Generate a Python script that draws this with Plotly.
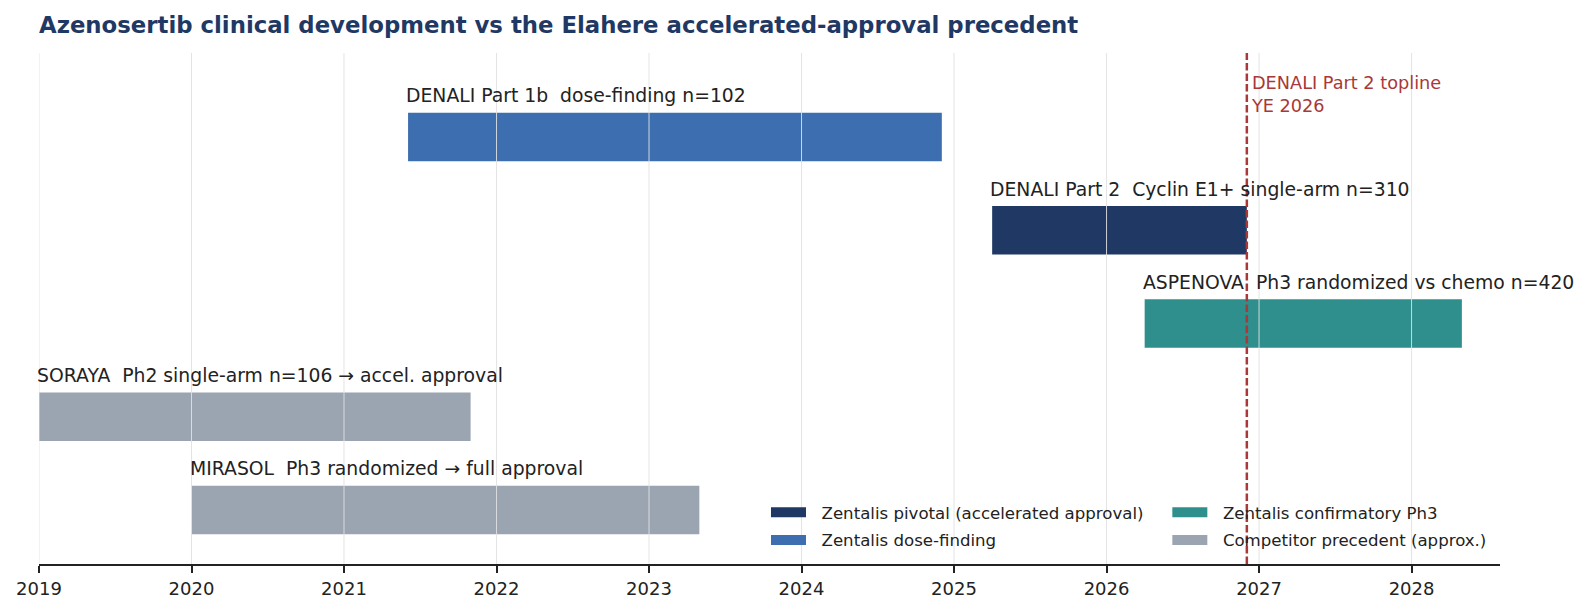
import plotly.graph_objects as go

# ---- data ----
trials = ["DENALI Part 1b", "DENALI Part 2", "ASPENOVA", "SORAYA", "MIRASOL"]
descriptions = [
    "dose-finding n=102",
    "Cyclin E1+ single-arm n=310",
    "Ph3 randomized vs chemo n=420",
    "Ph2 single-arm n=106 → accel. approval",
    "Ph3 randomized → full approval",
]
starts = [2021.42, 2025.25, 2026.25, 2019.0, 2020.0]
ends = [2024.92, 2026.92, 2028.33, 2021.83, 2023.33]
categories = [
    "Zentalis dose-finding",
    "Zentalis pivotal (accelerated approval)",
    "Zentalis confirmatory Ph3",
    "Competitor precedent (approx.)",
    "Competitor precedent (approx.)",
]
category_order = [
    "Zentalis pivotal (accelerated approval)",
    "Zentalis dose-finding",
    "Zentalis confirmatory Ph3",
    "Competitor precedent (approx.)",
]
category_colors = {
    "Zentalis pivotal (accelerated approval)": "#1f3864",
    "Zentalis dose-finding": "#3d6fb0",
    "Zentalis confirmatory Ph3": "#2e8f8c",
    "Competitor precedent (approx.)": "#9ba5b1",
}
category_legend = {
    "Zentalis pivotal (accelerated approval)": "legend",
    "Zentalis dose-finding": "legend",
    "Zentalis confirmatory Ph3": "legend2",
    "Competitor precedent (approx.)": "legend2",
}
topline_x = 2026.92
topline_text = "DENALI Part 2 topline<br>YE 2026"
year_ticks = list(range(2019, 2029))
title = "Azenosertib clinical development vs the Elahere accelerated-approval precedent"

FONT = "DejaVu Sans"
n = len(trials)
rows = [n - 1 - i for i in range(n)]
BAR_W = 0.52

fig = go.Figure()
for cat in category_order:
    idx = [i for i in range(n) if categories[i] == cat]
    fig.add_trace(go.Bar(
        y=[rows[i] for i in idx],
        x=[ends[i] - starts[i] for i in idx],
        base=[starts[i] for i in idx],
        orientation="h",
        width=BAR_W,
        name=cat,
        marker=dict(color=category_colors[cat], line=dict(width=0)),
        showlegend=False,
        legendgroup=cat,
        hoverinfo="skip",
    ))
    # legend swatch (wide rectangle like the reference)
    fig.add_trace(go.Scatter(
        x=[None], y=[None], mode="lines", name="\u00a0\u00a0" + cat,
        line=dict(color=category_colors[cat], width=14),
        legend=category_legend[cat], legendgroup=cat, hoverinfo="skip",
    ))

# gridlines above bars
for yr in year_ticks:
    fig.add_shape(type="line", xref="x", yref="paper", x0=yr, x1=yr, y0=0, y1=1,
                  line=dict(color="rgba(225,225,225,0.9)", width=1), layer="above")

# labels above bars
for i in range(n):
    fig.add_annotation(
        x=starts[i], y=rows[i] + BAR_W / 2 + 0.18, xref="x", yref="y",
        text=f"{trials[i]}\u00a0\u00a0{descriptions[i]}",
        showarrow=False, xanchor="left", yanchor="middle", xshift=-4,
        font=dict(family=FONT, size=18.8, color="#222222"),
    )

# topline dashed line
fig.add_shape(type="line", xref="x", yref="paper", x0=topline_x, x1=topline_x, y0=0, y1=1,
              line=dict(color="#a93838", width=2.5, dash="7.5px,3px"), layer="above")
fig.add_annotation(
    x=topline_x, y=4.45, xref="x", yref="y", text=topline_text,
    showarrow=False, xanchor="left", yanchor="middle", align="left", xshift=2,
    font=dict(family=FONT, size=17.7, color="#a93838"),
)

fig.update_layout(
    width=1590, height=614,
    margin=dict(l=39, r=90, t=53, b=50),
    paper_bgcolor="white", plot_bgcolor="white",
    barmode="overlay",
    title=dict(text=f"<b>{title}</b>", x=39 / 1590, xanchor="left", xref="container",
               y=1 - 25 / 614, yanchor="middle",
               font=dict(family=FONT, size=22.8, color="#1f3864")),
    font=dict(family=FONT, color="#222222"),
    legend=dict(x=0.4976, y=0.135, xanchor="left", yanchor="top", orientation="v",
                bgcolor="rgba(0,0,0,0)", font=dict(family=FONT, size=16.6, color="#222222"),
                tracegroupgap=3, itemwidth=35),
    legend2=dict(x=0.7723, y=0.135, xanchor="left", yanchor="top", orientation="v",
                 bgcolor="rgba(0,0,0,0)", font=dict(family=FONT, size=16.6, color="#222222"),
                 tracegroupgap=3, itemwidth=35),
    xaxis=dict(range=[2019, 2028.58], tickvals=year_ticks, ticktext=[str(y) for y in year_ticks],
               showgrid=False, zeroline=False, showline=True, linecolor="#222222", linewidth=2,
               ticks="outside", ticklen=7, tickwidth=1.8, tickcolor="#222222",
               tickfont=dict(family=FONT, size=18, color="#222222")),
    yaxis=dict(range=[-0.58, 4.90], showgrid=False, zeroline=False, showline=False,
               showticklabels=False, ticks=""),
)

fig.write_html("out.html")
